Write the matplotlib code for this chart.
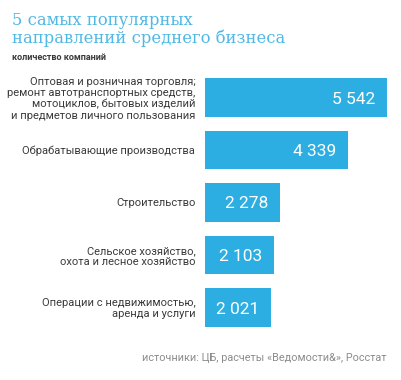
import matplotlib
matplotlib.use("Agg")
import matplotlib.pyplot as plt
from matplotlib.transforms import offset_copy

categories = [
    "Оптовая и розничная торговля;\nремонт автотранспортных средств,\nмотоциклов, бытовых изделий\nи предметов личного пользования",
    "Обрабатывающие производства",
    "Строительство",
    "Сельское хозяйство,\nохота и лесное хозяйство",
    "Операции с недвижимостью,\nаренда и услуги",
]
values = [5542, 4339, 2278, 2103, 2021]
value_labels = ["5 542", "4 339", "2 278", "2 103", "2 021"]

title = "5 самых популярных\nнаправлений среднего бизнеса"
subtitle = "количество компаний"
source = "источники: ЦБ, расчеты «Ведомости&», Росстат"

BAR = "#2daee2"
TITLE_C = "#4fb8e4"
TEXT_C = "#3a3a3a"
SRC_C = "#8c8c8c"

plt.rcParams['font.family'] = ['Roboto', 'DejaVu Sans']

fig = plt.figure(figsize=(4.02, 3.80), dpi=100)
ax = fig.add_axes([205/402, 1-333.75/380, 190/402, 262.5/380])

y = list(range(len(values)))
ax.barh(y, values, height=0.733, color=BAR, edgecolor="none")
ax.set_xlim(0, 190/0.0329)
ax.set_ylim(len(values)-0.5, -0.5)
ax.set_yticks(y)
ax.set_yticklabels(categories, fontsize=8, color=TEXT_C, linespacing=1.12, ha="right")
ax.tick_params(axis="y", length=0, pad=7)
ax.set_xticks([])
for s in ax.spines.values():
    s.set_visible(False)

for yi, v, lab in zip(y, values, value_labels):
    tr = offset_copy(ax.transData, fig=fig, x=-12, y=0, units="dots")
    ax.text(v, yi, lab, transform=tr, ha="right", va="center_baseline",
            color="white", fontsize=12.5)

fig.text(12/402, 1-12/380, title, fontsize=11.8, color=TITLE_C, family="DejaVu Serif",
         va="top", ha="left", linespacing=1.05)
fig.text(12/402, 1-60/380, subtitle, fontsize=6.5, color=TEXT_C, weight="bold",
         va="baseline", ha="left")
fig.text(387/402, 1-361/380, source, fontsize=7.85, color=SRC_C,
         va="baseline", ha="right")

fig.savefig("out.png", dpi=100)
